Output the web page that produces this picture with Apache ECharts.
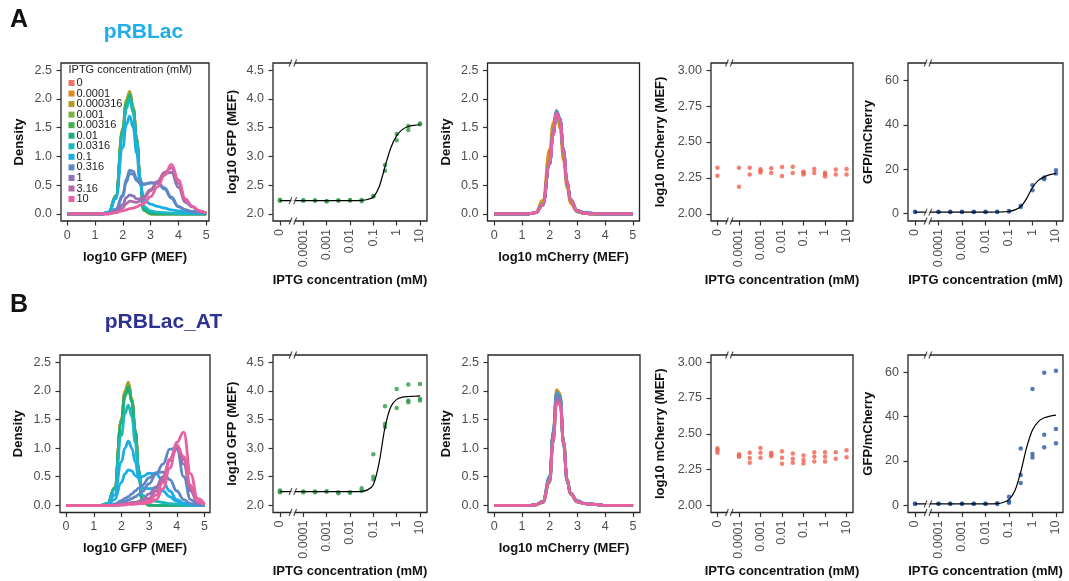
<!DOCTYPE html>
<html><head><meta charset="utf-8">
<script src="https://cdn.jsdelivr.net/npm/echarts@6/dist/echarts.min.js"></script>
<style>html,body{margin:0;padding:0;background:#fff}#c{width:1069px;height:581px}</style>
</head><body><div id="c"></div>
<script>
const FONT = '"Liberation Sans", Arial, Helvetica, sans-serif';

// ---------- categories ----------
const CONC_LABELS = ['0','0.0001','0.000316','0.001','0.00316','0.01','0.0316','0.1','0.316','1','3.16','10'];
const CONC = [0,0.0001,0.000316,0.001,0.00316,0.01,0.0316,0.1,0.316,1,3.16,10];
const CONC_COLORS = ['#EE7468','#DD8A1E','#B29B2B','#7DB343','#3DB14A','#1FAF7F','#1BB9BD','#1BAEE4','#5E87C7','#8D74B6','#B16BAA','#E7619F'];

// ---------- tick labels ----------
const IPTG_TICKS = [0,0.0001,0.001,0.01,0.1,1,10];
const IPTG_TICK_LABELS = ['0','0.0001','0.001','0.01','0.1','1','10'];
const DENS_X_TICKS = [0,1,2,3,4,5];
const DENS_Y_TICKS = [0,0.5,1,1.5,2,2.5];
const GFP_TICKS = [2,2.5,3,3.5,4,4.5];
const MCH_TICKS = [2,2.25,2.5,2.75,3];
const RATIO_TICKS = [0,20,40,60];

// ---------- density curves (x grid in log10 MEF) ----------
const DENS_X = [0,1,1.25,1.5,1.75,2,2.125,2.25,2.375,2.5,2.625,2.75,3,3.25,3.5,3.75,4,4.25,4.5,4.75,5];

// A: pRBLac, GFP
const A_GFP_0  = [0,0,0,0.03,0.30,1.45,1.92,2.08,1.82,1.30,0.60,0.07,0,0,0,0,0,0,0,0,0];
const A_GFP_1  = [0,0,0,0.03,0.31,1.47,1.95,2.11,1.84,1.31,0.60,0.07,0,0,0,0,0,0,0,0,0];
const A_GFP_2  = [0,0,0,0.03,0.32,1.50,1.98,2.13,1.86,1.32,0.61,0.07,0,0,0,0,0,0,0,0,0];
const A_GFP_3  = [0,0,0,0.03,0.30,1.46,1.93,2.09,1.83,1.30,0.59,0.07,0,0,0,0,0,0,0,0,0];
const A_GFP_4  = [0,0,0,0.03,0.30,1.43,1.90,2.07,1.82,1.30,0.60,0.07,0,0,0,0,0,0,0,0,0];
const A_GFP_5  = [0,0,0,0.03,0.30,1.42,1.88,2.05,1.80,1.29,0.61,0.08,0.01,0,0,0,0,0,0,0,0];
const A_GFP_6  = [0,0,0,0.03,0.29,1.38,1.83,2.00,1.76,1.26,0.62,0.13,0.05,0.03,0.02,0.01,0,0,0,0,0];
const A_GFP_7  = [0,0,0,0.03,0.26,1.15,1.55,1.70,1.50,1.06,0.52,0.25,0.17,0.13,0.10,0.07,0.05,0.03,0.02,0.01,0];
const A_GFP_8  = [0,0,0,0.01,0.08,0.33,0.60,0.76,0.74,0.61,0.55,0.52,0.54,0.53,0.43,0.27,0.12,0.07,0.04,0.02,0.01];
const A_GFP_8B = [0,0,0,0.01,0.07,0.30,0.55,0.70,0.69,0.58,0.53,0.51,0.54,0.54,0.45,0.29,0.13,0.07,0.04,0.02,0.01];
const A_GFP_9  = [0,0,0,0,0.04,0.16,0.28,0.33,0.31,0.26,0.26,0.30,0.42,0.56,0.70,0.72,0.46,0.20,0.12,0.05,0.01];
const A_GFP_10 = [0,0,0,0,0.03,0.10,0.18,0.22,0.21,0.20,0.22,0.27,0.40,0.56,0.72,0.80,0.53,0.22,0.13,0.05,0.01];
const A_GFP_11 = [0,0,0,0,0.02,0.05,0.07,0.09,0.10,0.12,0.15,0.18,0.30,0.47,0.67,0.86,0.59,0.26,0.13,0.05,0.01];

// A: pRBLac, mCherry
const A_MCH_0  = [0,0,0,0.02,0.17,0.92,1.42,1.76,1.60,1.07,0.55,0.23,0.04,0.01,0,0,0,0,0,0,0];
const A_MCH_1  = [0,0,0,0.03,0.24,1.12,1.58,1.80,1.48,0.93,0.46,0.18,0.03,0.01,0,0,0,0,0,0,0];
const A_MCH_2  = [0,0,0,0.02,0.18,0.95,1.45,1.77,1.58,1.05,0.53,0.22,0.04,0.01,0,0,0,0,0,0,0];
const A_MCH_3  = [0,0,0,0.02,0.16,0.90,1.40,1.76,1.62,1.08,0.56,0.24,0.04,0.01,0,0,0,0,0,0,0];
const A_MCH_4  = [0,0,0,0.02,0.16,0.89,1.40,1.77,1.63,1.09,0.56,0.24,0.04,0.01,0,0,0,0,0,0,0];
const A_MCH_5  = [0,0,0,0.02,0.16,0.88,1.39,1.78,1.64,1.10,0.57,0.25,0.05,0.01,0,0,0,0,0,0,0];
const A_MCH_6  = [0,0,0,0.02,0.15,0.86,1.38,1.79,1.66,1.12,0.58,0.26,0.05,0.02,0.01,0,0,0,0,0,0];
const A_MCH_7  = [0,0,0,0.02,0.15,0.86,1.37,1.78,1.66,1.12,0.58,0.26,0.06,0.02,0.01,0,0,0,0,0,0];
const A_MCH_8  = [0,0,0,0.02,0.15,0.87,1.38,1.77,1.65,1.11,0.57,0.25,0.05,0.02,0.01,0,0,0,0,0,0];
const A_MCH_9  = [0,0,0,0.02,0.15,0.87,1.38,1.76,1.64,1.10,0.57,0.25,0.05,0.02,0.01,0,0,0,0,0,0];
const A_MCH_10 = [0,0,0,0.02,0.15,0.88,1.38,1.75,1.63,1.10,0.57,0.25,0.05,0.01,0,0,0,0,0,0,0];
const A_MCH_11 = [0,0,0,0.02,0.15,0.88,1.38,1.75,1.63,1.10,0.57,0.25,0.05,0.01,0,0,0,0,0,0,0];

// B: pRBLac_AT, GFP
const B_GFP_0   = [0,0,0,0.03,0.30,1.50,1.98,2.14,1.85,1.30,0.60,0.07,0,0,0,0,0,0,0,0,0];
const B_GFP_1   = [0,0,0,0.03,0.30,1.49,1.96,2.12,1.84,1.30,0.60,0.07,0,0,0,0,0,0,0,0,0];
const B_GFP_2   = [0,0,0,0.03,0.31,1.51,1.99,2.15,1.86,1.31,0.61,0.07,0,0,0,0,0,0,0,0,0];
const B_GFP_3   = [0,0,0,0.03,0.30,1.47,1.95,2.10,1.83,1.30,0.60,0.07,0,0,0,0,0,0,0,0,0];
const B_GFP_4   = [0,0,0,0.03,0.30,1.46,1.93,2.08,1.82,1.30,0.60,0.07,0,0,0,0,0,0,0,0,0];
const B_GFP_5   = [0,0,0,0.03,0.29,1.44,1.90,2.05,1.80,1.29,0.61,0.08,0.01,0,0,0,0,0,0,0,0];
const B_GFP_6   = [0,0,0,0.03,0.28,1.22,1.60,1.75,1.55,1.10,0.56,0.18,0.09,0.07,0.05,0.03,0.02,0.01,0,0,0];
const B_GFP_7   = [0,0,0,0.02,0.18,0.76,1.00,1.12,1.00,0.76,0.46,0.31,0.29,0.30,0.25,0.15,0.07,0.03,0.01,0,0];
const B_GFP_7B  = [0,0,0,0.01,0.10,0.40,0.55,0.62,0.60,0.52,0.48,0.50,0.56,0.55,0.42,0.25,0.10,0.04,0.02,0,0];
const B_GFP_8   = [0,0,0,0,0.02,0.05,0.07,0.09,0.12,0.15,0.19,0.24,0.38,0.55,0.72,0.98,1.00,0.50,0.10,0.02,0.01];
const B_GFP_8B  = [0,0,0,0,0.02,0.08,0.12,0.15,0.20,0.25,0.30,0.35,0.48,0.57,0.58,0.45,0.25,0.10,0.03,0.01,0];
const B_GFP_9   = [0,0,0,0,0,0.02,0.03,0.04,0.05,0.05,0.07,0.10,0.20,0.32,0.50,0.78,0.98,0.72,0.25,0.05,0.01];
const B_GFP_10  = [0,0,0,0,0,0.01,0.02,0.03,0.03,0.04,0.05,0.07,0.12,0.25,0.45,0.80,1.05,0.80,0.30,0.06,0.01];
const B_GFP_11  = [0,0,0,0,0,0.01,0.01,0.02,0.02,0.02,0.03,0.03,0.05,0.10,0.29,0.65,1.10,1.28,0.55,0.12,0.02];
const B_GFP_11B = [0,0,0,0,0,0.01,0.01,0.02,0.02,0.03,0.04,0.05,0.08,0.18,0.40,0.80,1.05,0.85,0.35,0.07,0.01];

// B: pRBLac_AT, mCherry
const B_MCH_0  = [0,0,0,0.01,0.06,0.45,1.22,1.93,1.88,1.08,0.43,0.20,0.06,0.03,0.02,0.01,0,0,0,0,0];
const B_MCH_1  = [0,0,0,0.01,0.07,0.50,1.30,2.02,1.95,1.10,0.43,0.19,0.06,0.03,0.02,0.01,0,0,0,0,0];
const B_MCH_2  = [0,0,0,0.01,0.06,0.46,1.24,1.96,1.90,1.08,0.43,0.20,0.06,0.03,0.02,0.01,0,0,0,0,0];
const B_MCH_3  = [0,0,0,0.01,0.05,0.40,1.12,1.82,1.86,1.12,0.46,0.21,0.06,0.03,0.02,0.01,0,0,0,0,0];
const B_MCH_4  = [0,0,0,0.01,0.05,0.40,1.10,1.80,1.84,1.12,0.47,0.21,0.06,0.03,0.02,0.01,0,0,0,0,0];
const B_MCH_5  = [0,0,0,0.01,0.06,0.44,1.20,1.92,1.88,1.10,0.44,0.20,0.06,0.03,0.02,0.01,0,0,0,0,0];
const B_MCH_6  = [0,0,0,0.01,0.07,0.48,1.26,1.96,1.90,1.08,0.43,0.20,0.07,0.03,0.02,0.01,0,0,0,0,0];
const B_MCH_7  = [0,0,0,0.01,0.07,0.50,1.28,1.97,1.88,1.05,0.42,0.21,0.08,0.04,0.02,0.01,0,0,0,0,0];
const B_MCH_8  = [0,0,0,0.01,0.07,0.48,1.26,1.95,1.88,1.06,0.43,0.21,0.07,0.03,0.02,0.01,0,0,0,0,0];
const B_MCH_9  = [0,0,0,0.01,0.06,0.45,1.20,1.88,1.84,1.08,0.44,0.21,0.07,0.03,0.02,0.01,0,0,0,0,0];
const B_MCH_10 = [0,0,0,0.01,0.06,0.44,1.16,1.82,1.80,1.08,0.45,0.21,0.07,0.03,0.02,0.01,0,0,0,0,0];
const B_MCH_11 = [0,0,0,0.01,0.06,0.43,1.12,1.78,1.76,1.08,0.45,0.21,0.06,0.03,0.02,0.01,0,0,0,0,0];

// [concentration index, curve] in drawing order
const A_GFP_CURVES = [[0,A_GFP_0],[1,A_GFP_1],[2,A_GFP_2],[3,A_GFP_3],[4,A_GFP_4],[5,A_GFP_5],[6,A_GFP_6],[7,A_GFP_7],[8,A_GFP_8],[8,A_GFP_8B],[9,A_GFP_9],[10,A_GFP_10],[11,A_GFP_11]];
const A_MCH_CURVES = [[0,A_MCH_0],[1,A_MCH_1],[2,A_MCH_2],[3,A_MCH_3],[4,A_MCH_4],[5,A_MCH_5],[6,A_MCH_6],[7,A_MCH_7],[8,A_MCH_8],[9,A_MCH_9],[10,A_MCH_10],[11,A_MCH_11]];
const B_GFP_CURVES = [[0,B_GFP_0],[1,B_GFP_1],[2,B_GFP_2],[3,B_GFP_3],[4,B_GFP_4],[5,B_GFP_5],[6,B_GFP_6],[7,B_GFP_7],[7,B_GFP_7B],[8,B_GFP_8],[8,B_GFP_8B],[9,B_GFP_9],[10,B_GFP_10],[11,B_GFP_11],[11,B_GFP_11B]];
const B_MCH_CURVES = [[0,B_MCH_0],[1,B_MCH_1],[2,B_MCH_2],[3,B_MCH_3],[4,B_MCH_4],[5,B_MCH_5],[6,B_MCH_6],[7,B_MCH_7],[8,B_MCH_8],[9,B_MCH_9],[10,B_MCH_10],[11,B_MCH_11]];

// ---------- replicate points per concentration ----------
const A_GFP_PTS = [[2.24,2.23,2.23],[2.23,2.23],[2.23,2.23],[2.22,2.22],[2.23,2.23],[2.23,2.24],[2.22,2.24],[2.30,2.31],[2.85,2.75],[3.39,3.28],[3.53,3.46],[3.57,3.56]];
const A_MCH_PTS = [[2.321,2.265],[2.320,2.188],[2.320,2.274],[2.310,2.288,2.300],[2.318,2.284],[2.326,2.263],[2.328,2.284],[2.293,2.274,2.285],[2.312,2.284],[2.286,2.260,2.275],[2.309,2.274],[2.312,2.274]];
const A_RATIO_PTS = [[0.7,0.9],[0.7,0.9],[0.7,0.9],[0.7,0.9],[0.7,0.9],[0.7,0.9],[0.7,0.9],[1.0,1.2],[3.0,3.6],[12.8,10.6],[16.3,15.5],[19.6,18.1]];
const B_GFP_PTS = [[2.26,2.23,2.24],[2.24,2.23],[2.24,2.23],[2.24,2.24],[2.23,2.21],[2.23,2.22],[2.30,2.25],[2.89,2.50,2.45],[3.73,3.42,3.37],[4.03,3.70],[4.11,3.83,3.80],[4.12,3.86,3.83]];
const B_MCH_PTS = [[2.399,2.385,2.367],[2.357,2.346,2.339],[2.367,2.330,2.297],[2.401,2.367,2.332],[2.367,2.355,2.343],[2.378,2.332,2.290],[2.362,2.325,2.297],[2.348,2.316,2.292],[2.371,2.339,2.306],[2.371,2.339,2.306],[2.371,2.325],[2.385,2.336]];
const B_RATIO_PTS = [[0.6,0.7],[0.6,0.7],[0.6,0.7],[0.6,0.7],[0.6,0.7],[0.6,0.7],[0.9,0.5],[3.8,1.7,1.1],[25.6,13.6,10.0],[52.5,23.1,21.6],[59.9,31.8,26.2],[60.8,34.4,28.0]];

// ---------- fitted dose-response curves ----------
const FIT_C = [0.0001,0.000316,0.001,0.00316,0.01,0.0316,0.0562,0.1,0.178,0.316,0.562,1,1.78,3.16,5.62,10];
const A_GFP_FIT   = [2.23,2.23,2.23,2.23,2.23,2.235,2.25,2.29,2.47,2.82,3.15,3.36,3.47,3.52,3.54,3.55];
const A_RATIO_FIT = [0.7,0.7,0.7,0.7,0.7,0.75,0.85,1.0,1.7,3.2,6.8,11.8,15.0,16.6,17.6,18.2];
const B_GFP_FIT   = [2.24,2.24,2.24,2.24,2.24,2.245,2.27,2.36,2.75,3.36,3.72,3.85,3.89,3.90,3.905,3.91];
const B_RATIO_FIT = [0.6,0.6,0.6,0.6,0.6,0.7,1.2,2.5,6.5,15.0,26.0,34.0,37.8,39.5,40.3,40.7];

// ---------- broken log axis: 0 sits one decade left of 1e-4 ----------
const ZERO_POS = -5, BREAK_POS = -4.45;
const pos = c => c === 0 ? ZERO_POS : Math.log10(c);

const chart = echarts.init(document.getElementById('c'), null, {renderer:'canvas'});
const grids = [], xAxis = [], yAxis = [], series = [];

function axis(i, c) {
  return {gridIndex:i, type:'value', min:c.min, max:c.max, name:c.name, nameLocation:'middle', nameGap:c.gap,
    nameTextStyle:{fontFamily:FONT, fontSize:13, fontWeight:'bold', color:'#111'},
    axisLine:{show:false, onZero:false}, splitLine:{show:false},
    axisTick:{show:true, length:4.5, customValues:c.ticks, lineStyle:{color:'#333', width:1.2}},
    axisLabel:{customValues:c.ticks, formatter:c.fmt, rotate:c.rotate||0, margin:c.margin,
      color:'#4d4d4d', fontSize:12.5, fontFamily:FONT}};
}
function panel(rect, xc, yc) {
  const i = grids.length;
  grids.push({left:rect[0], top:rect[1], width:rect[2], height:rect[3], show:true,
    borderColor:'#262626', borderWidth:1.3, backgroundColor:'#fff'});
  xAxis.push(axis(i, xc));
  yAxis.push(axis(i, yc));
  return i;
}
const iptgPos = IPTG_TICKS.map(pos);
const iptgFmt = v => { const k = iptgPos.findIndex(p => Math.abs(p - v) < 1e-6); return k < 0 ? '' : IPTG_TICK_LABELS[k]; };
const xDens = (name, min, max) => ({min, max, ticks:DENS_X_TICKS, fmt:v => String(v), name, gap:29.5, margin:8});
const xIptg = gap => ({min:-5.3, max:1.3, ticks:iptgPos, fmt:iptgFmt, rotate:90, name:'IPTG concentration (mM)', gap, margin:8});
const yDens = {min:-0.125, max:2.625, ticks:DENS_Y_TICKS, fmt:v => v.toFixed(1), name:'Density', gap:35, margin:9};
const yGfp  = {min:1.875, max:4.625, ticks:GFP_TICKS, fmt:v => v.toFixed(1), name:'log10 GFP (MEF)', gap:34, margin:9};
const yMch  = {min:1.95, max:3.05, ticks:MCH_TICKS, fmt:v => v.toFixed(2), name:'log10 mCherry (MEF)', gap:44, margin:9};
const yRat  = {min:-3.3, max:67.9, ticks:RATIO_TICKS, fmt:v => String(v), name:'GFP/mCherry', gap:33, margin:9};

function densityPanel(i, curves) {
  curves.forEach(([ci, arr]) => {
    series.push({type:'line', name:CONC_LABELS[ci], xAxisIndex:i, yAxisIndex:i,
      data:DENS_X.map((x, k) => [x, arr[k]]), symbol:'none', showSymbol:false, smooth:0.45, smoothMonotone:'x',
      lineStyle:{color:CONC_COLORS[ci], width:2.8}, itemStyle:{color:CONC_COLORS[ci]}, silent:true, z:2});
  });
}
function pointsPanel(i, pts, color) {
  const data = [];
  pts.forEach((reps, ci) => reps.forEach(v => data.push([pos(CONC[ci]), v])));
  series.push({type:'scatter', name:'pts' + i, xAxisIndex:i, yAxisIndex:i, data, symbolSize:4.5,
    itemStyle:{color}, silent:true, z:2});
}
function fitLine(i, fit) {
  const data = [[pos(0), fit[0]]].concat(FIT_C.map((c, k) => [pos(c), fit[k]]));
  series.push({type:'line', name:'fit' + i, xAxisIndex:i, yAxisIndex:i, data, symbol:'none', showSymbol:false,
    smooth:0.3, lineStyle:{color:'#000', width:1.2}, silent:true, z:3});
}
function breakMarks(i, ys) {
  const data = ys.map(y => [BREAK_POS, y]);
  series.push({type:'scatter', name:'brk' + i, xAxisIndex:i, yAxisIndex:i, data, symbol:'rect', symbolSize:[4, 6],
    itemStyle:{color:'#fff'}, silent:true, clip:false, z:5});
  series.push({type:'scatter', name:'brk2' + i, xAxisIndex:i, yAxisIndex:i, data, symbol:'path://M0,10L3,0M5,10L8,0',
    symbolSize:[7.5, 7], itemStyle:{color:'none', borderColor:'#222', borderWidth:1.1}, silent:true, clip:false, z:6});
}

// ----- row A -----
let g;
g = panel([61, 63, 148, 158], xDens('log10 GFP (MEF)', -0.22, 5.1), yDens); densityPanel(g, A_GFP_CURVES);
g = panel([273, 63, 154, 158], xIptg(53), yGfp); pointsPanel(g, A_GFP_PTS, '#2A9A48'); fitLine(g, A_GFP_FIT);
breakMarks(g, [yGfp.min, yGfp.max, A_GFP_FIT[0]]);
g = panel([487.5, 63, 152, 158], xDens('log10 mCherry (MEF)', -0.24, 5.24), yDens); densityPanel(g, A_MCH_CURVES);
g = panel([711, 63, 142, 158], xIptg(53), yMch); pointsPanel(g, A_MCH_PTS, '#F0604C');
breakMarks(g, [yMch.min, yMch.max]);
g = panel([908, 63, 155, 158], xIptg(53), yRat); pointsPanel(g, A_RATIO_PTS, '#2756A6'); fitLine(g, A_RATIO_FIT);
breakMarks(g, [yRat.min, yRat.max, A_RATIO_FIT[0]]);

// ----- row B -----
g = panel([60, 355, 150, 157.5], xDens('log10 GFP (MEF)', -0.22, 5.2), yDens); densityPanel(g, B_GFP_CURVES);
g = panel([273, 355, 154, 157.5], xIptg(52), yGfp); pointsPanel(g, B_GFP_PTS, '#2A9A48'); fitLine(g, B_GFP_FIT);
breakMarks(g, [yGfp.min, yGfp.max, B_GFP_FIT[0]]);
g = panel([488, 355, 152, 157.5], xDens('log10 mCherry (MEF)', -0.22, 5.25), yDens); densityPanel(g, B_MCH_CURVES);
g = panel([711, 355, 142, 157.5], xIptg(52), yMch); pointsPanel(g, B_MCH_PTS, '#F0604C');
breakMarks(g, [yMch.min, yMch.max]);
g = panel([908, 355, 155, 157.5], xIptg(52), yRat); pointsPanel(g, B_RATIO_PTS, '#2756A6'); fitLine(g, B_RATIO_FIT);
breakMarks(g, [yRat.min, yRat.max, B_RATIO_FIT[0]]);

const txt = (text, x, y, size, color, align) => ({type:'text', x, y, silent:true, z:10,
  style:{text, fontFamily:FONT, fontSize:size, fontWeight:'bold', fill:color,
    align:align || 'left', textAlign:align || 'left', verticalAlign:'middle', textVerticalAlign:'middle'}});

chart.setOption({
  animation:false,
  backgroundColor:'#fff',
  grid:grids, xAxis, yAxis, series,
  legend:{data:CONC_LABELS, left:68.5, top:77.5, orient:'vertical', icon:'rect', itemWidth:6, itemHeight:6,
    itemGap:-0.45, padding:0, selectedMode:false,
    textStyle:{fontSize:11, fontFamily:FONT, color:'#222', lineHeight:10.55, padding:[0,0,0,-3]}},
  graphic:[
    txt('A', 10, 20, 25, '#111'),
    txt('pRBLac', 143.5, 32.3, 21, '#1FAEEA', 'center'),
    txt('B', 10, 305.5, 25, '#111'),
    txt('pRBLac_AT', 163.5, 322, 21, '#2E3192', 'center'),
    {type:'text', x:68.5, y:70, silent:true, z:10,
      style:{text:'IPTG concentration (mM)', fontFamily:FONT, fontSize:11, fill:'#222', verticalAlign:'middle', textVerticalAlign:'middle'}}
  ]
});
</script>
</body></html>
